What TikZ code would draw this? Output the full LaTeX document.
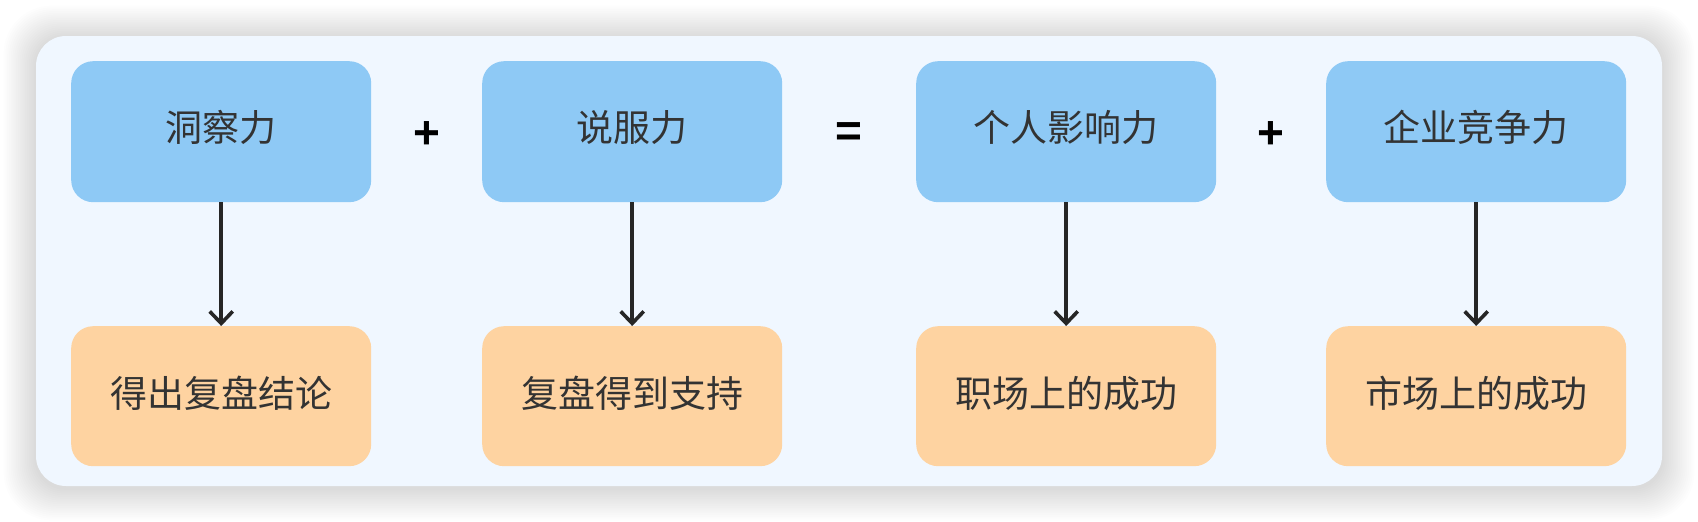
\documentclass[tikz,border=0pt]{standalone}
\usepackage{fontspec}
\setmainfont{Noto Sans CJK SC}
\newfontfamily\symfont{Liberation Sans}
\usetikzlibrary{arrows.meta}
\definecolor{panelbg}{HTML}{F0F7FF}
\definecolor{topblue}{HTML}{8EC9F5}
\definecolor{botorange}{HTML}{FED3A1}
\definecolor{txt}{HTML}{333333}
\definecolor{arr}{HTML}{262626}
\tikzset{
  x=1pt, y=-1pt,
  topbox/.style={fill=topblue, rounded corners=22pt, minimum width=300pt, minimum height=141pt, inner sep=0pt, anchor=north west},
  botbox/.style={fill=botorange, rounded corners=22pt, minimum width=300pt, minimum height=140pt, inner sep=0pt, anchor=north west},
  lbl/.style={text=txt, font=\fontsize{37}{42}\selectfont, inner sep=0pt},
  opsign/.style={font=\symfont\bfseries\fontsize{46}{50}\selectfont, text=black, inner sep=0pt},
  flow/.style={draw=arr, line width=3.6pt, -{Straight Barb[length=12pt,width=23pt,line width=3.6pt]}}
}
\begin{document}
\begin{tikzpicture}
\useasboundingbox (0,0) rectangle (1698,522);
\fill[white] (0,0) rectangle (1698,522);
% soft shadow
\foreach \i in {1,...,18}{
  \fill[black, opacity=0.008, rounded corners={30pt+\i pt}] (36-1.8*\i,38-1.8*\i) rectangle (1662+1.8*\i,488+1.8*\i);
}
\fill[panelbg, rounded corners=30pt] (36,36) rectangle (1662,486);
% top row
\node[topbox] (t1) at (71,61) {};
\node[topbox] (t2) at (482,61) {};
\node[topbox] (t3) at (916,61) {};
\node[topbox] (t4) at (1326,61) {};
\node[lbl] (t1l) at ([yshift=4pt]t1.center) {洞察力};
\node[lbl] (t2l) at ([yshift=4pt]t2.center) {说服力};
\node[lbl] (t3l) at ([yshift=4pt]t3.center) {个人影响力};
\node[lbl] (t4l) at ([yshift=4pt]t4.center) {企业竞争力};
% bottom row
\node[botbox] (b1) at (71,326) {};
\node[botbox] (b2) at (482,326) {};
\node[botbox] (b3) at (916,326) {};
\node[botbox] (b4) at (1326,326) {};
\node[lbl] (b1l) at ([yshift=3pt]b1.center) {得出复盘结论};
\node[lbl] (b2l) at ([yshift=3pt]b2.center) {复盘得到支持};
\node[lbl] (b3l) at ([yshift=3pt]b3.center) {职场上的成功};
\node[lbl] (b4l) at ([yshift=3pt]b4.center) {市场上的成功};
% operators
\node[opsign] (p1) at (427,135) {+};
\node[opsign] (eq) at (849,135) {=};
\node[opsign] (p2) at (1271,135) {+};
% arrows
\foreach \k in {1,2,3,4}{
  \draw[flow] (t\k.south) -- (b\k.north);
}
\end{tikzpicture}
\end{document}
